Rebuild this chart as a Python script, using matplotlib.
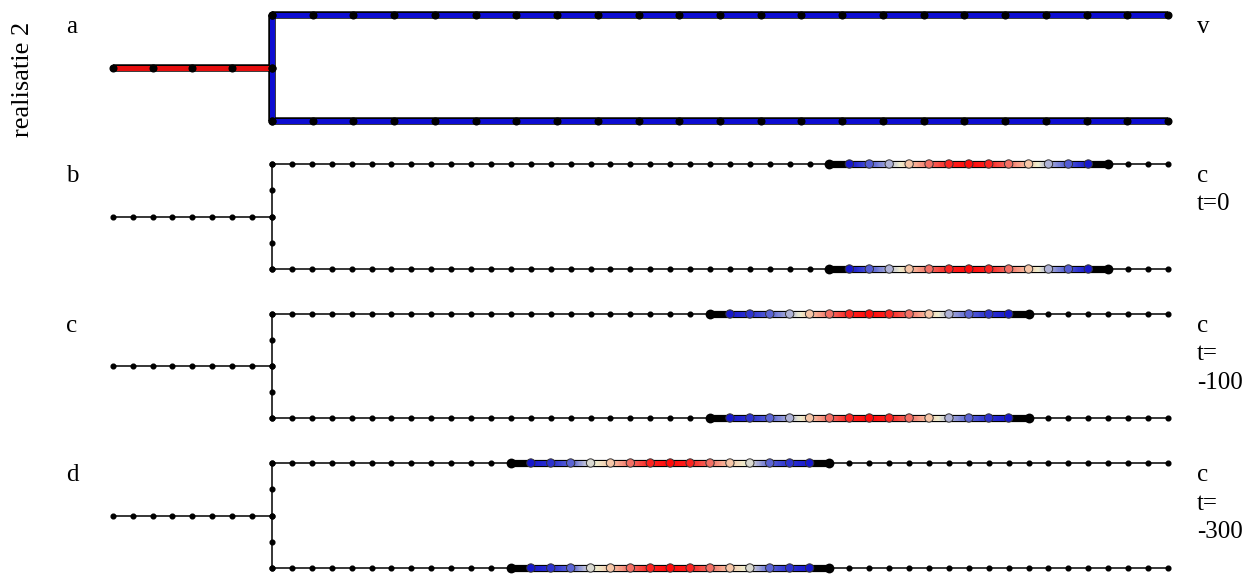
import numpy as np
import matplotlib
matplotlib.use("Agg")
import matplotlib.pyplot as plt
from matplotlib.collections import LineCollection
from matplotlib.colors import LinearSegmentedColormap, Normalize

# ---------------- data ----------------
row_label = "realisatie 2"
panel_letters = ["a", "b", "c", "d"]
panel_right_labels = ["v", "c\nt=0", "c\nt=\n-100", "c\nt=\n-300"]

# panel a: velocity on coarse grid
v_left = 1.0
v_vertical = 0.5
v_top = 0.5
v_bottom = 0.5
coarse_left_segments = 4
coarse_branch_segments = 22
coarse_vertical_segments = 2

# panels b-d: concentration on fine grid
fine_left_segments = 8
fine_branch_segments = 45
fine_vertical_segments = 4
# index (along branch) of the leading black node of the pulse
pulse_start = [28, 22, 12]
conc_b = [0.0, 0.05, 0.25, 0.42, 0.64, 0.8, 0.95, 1.0, 0.95, 0.8, 0.64, 0.42, 0.25, 0.05, 0.0]
conc_c = [0.0, 0.05, 0.14, 0.27, 0.42, 0.64, 0.8, 0.95, 1.0, 0.95, 0.8, 0.64, 0.42, 0.27, 0.14, 0.05, 0.0]
conc_d = [0.0, 0.05, 0.14, 0.27, 0.5, 0.64, 0.8, 0.95, 1.0, 0.95, 0.8, 0.64, 0.5, 0.27, 0.14, 0.05, 0.0]
conc_profiles = [conc_b, conc_c, conc_d]

# ---------------- style ----------------
W, H, DPI = 1254, 575, 100
FONT = "Liberation Serif"
FS = 18
cmap = LinearSegmentedColormap.from_list("bwr2", [
    (0.0, (0.08, 0.08, 0.80)),
    (0.15, (0.22, 0.25, 0.82)),
    (0.28, (0.42, 0.46, 0.84)),
    (0.42, (0.74, 0.75, 0.84)),
    (0.52, (0.93, 0.92, 0.80)),
    (0.64, (0.97, 0.76, 0.64)),
    (0.80, (0.95, 0.42, 0.38)),
    (1.0, (1.0, 0.04, 0.04)),
])
cmap.set_under("black")
cnorm = Normalize(vmin=0.04, vmax=1.0)
vcmap = LinearSegmentedColormap.from_list("v", [(0.0, (0.05, 0.05, 0.82)), (1.0, (0.9, 0.05, 0.05))])
vnorm = Normalize(vmin=0.5, vmax=1.0)

# layout (pixels)
x_junction_px = 272.0
step_px = 19.91
panel_tops = [15, 164, 314, 463]
panel_bottoms = [121, 269, 418, 568]
pad = 22

fig = plt.figure(figsize=(W / DPI, H / DPI), dpi=DPI)
fig.patch.set_facecolor("white")

xlim = (-x_junction_px / step_px, (W - x_junction_px) / step_px)
L_left = fine_left_segments
L_branch = fine_branch_segments

THIN = 1.1


def make_ax(i):
    yt, yb = panel_tops[i], panel_bottoms[i]
    rect = [0, 1 - (yb + pad) / H, 1, (yb - yt + 2 * pad) / H]
    ax = fig.add_axes(rect)
    s = (yb - yt) / 2.0
    ax.set_xlim(*xlim)
    ax.set_ylim(-1 - pad / s, 1 + pad / s)
    ax.axis("off")
    return ax


def thick(ax, xs, ys, color, lw_in, lw_out, z):
    ax.plot(xs, ys, color="black", lw=lw_out, solid_capstyle="butt", zorder=z)
    ax.plot(xs, ys, color=color, lw=lw_in, solid_capstyle="butt", zorder=z + 0.1)


# ---------- panel a ----------
ax = make_ax(0)
xl = np.linspace(-L_left, 0, coarse_left_segments + 1)
xb = np.linspace(0, L_branch, coarse_branch_segments + 1)
yv = np.linspace(1, -1, coarse_vertical_segments + 1)
LW_IN, LW_OUT = 3.6, 5.4
thick(ax, xl, np.zeros_like(xl), vcmap(vnorm(v_left)), LW_IN, LW_OUT, 2)
thick(ax, np.zeros_like(yv), yv, vcmap(vnorm(v_vertical)), LW_IN, LW_OUT, 2)
thick(ax, xb, np.ones_like(xb), vcmap(vnorm(v_top)), LW_IN, LW_OUT, 2)
thick(ax, xb, -np.ones_like(xb), vcmap(vnorm(v_bottom)), LW_IN, LW_OUT, 2)
for xs, ys in [(xl, np.zeros_like(xl)), (np.zeros_like(yv), yv),
               (xb, np.ones_like(xb)), (xb, -np.ones_like(xb))]:
    ax.plot(xs, ys, "o", color="black", ms=4.8, zorder=4, lw=0)

# ---------- panels b-d ----------
for p in range(3):
    ax = make_ax(p + 1)
    xl = np.linspace(-L_left, 0, fine_left_segments + 1)
    xb = np.linspace(0, L_branch, fine_branch_segments + 1)
    yv = np.linspace(1, -1, fine_vertical_segments + 1)
    for xs, ys in [(xl, np.zeros_like(xl)), (np.zeros_like(yv), yv),
                   (xb, np.ones_like(xb)), (xb, -np.ones_like(xb))]:
        ax.plot(xs, ys, "-", color="black", lw=THIN, zorder=1)
        ax.plot(xs, ys, "o", color="black", ms=3.4, lw=0, zorder=1.5)
    conc = np.array(conc_profiles[p])
    i0 = pulse_start[p]
    xp = xb[i0:i0 + len(conc)]
    for yrow in (1, -1):
        # outline
        ax.plot(xp, np.full_like(xp, yrow), color="black", lw=5.2,
                solid_capstyle="butt", zorder=2)
        # gradient fill
        nsub = 16
        segs, cols = [], []
        for k in range(len(xp) - 1):
            t = np.linspace(0, 1, nsub + 1)
            xx = xp[k] + (xp[k + 1] - xp[k]) * t
            cc = conc[k] + (conc[k + 1] - conc[k]) * t
            for j in range(nsub):
                segs.append([(xx[j], yrow), (xx[j + 1], yrow)])
                cols.append(cmap(cnorm(0.5 * (cc[j] + cc[j + 1]))))
        lc = LineCollection(segs, colors=cols, linewidths=3.5, capstyle="butt",
                            antialiaseds=False, zorder=3)
        ax.add_collection(lc)
        # nodes
        inner = conc >= cnorm.vmin
        ax.scatter(xp[inner], np.full(inner.sum(), yrow), c=cmap(cnorm(conc[inner])),
                   s=36, edgecolors=(0.2, 0.2, 0.2), linewidths=0.7, zorder=5)
        ax.scatter(xp[~inner], np.full((~inner).sum(), yrow), c="black",
                   s=50, linewidths=0, zorder=5)

# ---------- labels ----------
for i in range(4):
    yt = panel_tops[i]
    fig.text(66 / W, 1 - (yt + 18) / H, panel_letters[i], family=FONT, fontsize=FS,
             ha="left", va="baseline")
    for j, line in enumerate(panel_right_labels[i].split("\n")):
        fig.text(1197 / W, 1 - (yt + 18 + 28.5 * j) / H, line, family=FONT, fontsize=FS,
                 ha="left", va="baseline")

fig.text(23 / W, 1 - 79 / H, row_label, family=FONT, fontsize=19, rotation=90,
         ha="center", va="center")

fig.savefig("out.png", dpi=DPI, facecolor="white")
